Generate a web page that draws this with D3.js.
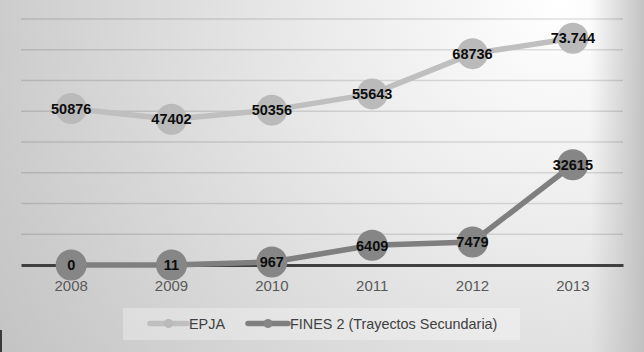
<!DOCTYPE html>
<html><head><meta charset="utf-8">
<script src="https://cdn.jsdelivr.net/npm/d3@7"></script>
<style>html,body{margin:0;padding:0;background:#fff;}svg{display:block;}</style>
</head><body>
<script>
const years = ["2008","2009","2010","2011","2012","2013"];
const epja = [50876, 47402, 50356, 55643, 68736, 73744];
const epjaLabels = ["50876","47402","50356","55643","68736","73.744"];
const fines = [0, 11, 967, 6409, 7479, 32615];
const finesLabels = ["0","11","967","6409","7479","32615"];
const seriesNames = ["EPJA", "FINES 2 (Trayectos Secundaria)"];
const yTicks = [0,10000,20000,30000,40000,50000,60000,70000,80000];

const W = 644, H = 352;
const svg = d3.select("body").append("svg").attr("width", W).attr("height", H);
const defs = svg.append("defs");
const rg = defs.append("radialGradient").attr("id","bg").attr("gradientUnits","userSpaceOnUse")
  .attr("cx",560).attr("cy",5).attr("r",650);
rg.append("stop").attr("offset","0").attr("stop-color","#ffffff");
rg.append("stop").attr("offset","0.35").attr("stop-color","#ececec");
rg.append("stop").attr("offset","1").attr("stop-color","#c4c4c4");
const lg = defs.append("linearGradient").attr("id","edge").attr("x1","0").attr("x2","1").attr("y1","0").attr("y2","0");
lg.append("stop").attr("offset","0").attr("stop-color","#bdbdbd").attr("stop-opacity",0);
lg.append("stop").attr("offset","1").attr("stop-color","#bdbdbd").attr("stop-opacity",0.9);

svg.append("rect").attr("width",W).attr("height",H).attr("fill","url(#bg)");
svg.append("rect").attr("x",590).attr("width",54).attr("height",H).attr("fill","url(#edge)");
svg.append("rect").attr("x",0).attr("y",330).attr("width",2).attr("height",22).attr("fill","#3a3a3a");

const x = d3.scaleBand().domain(years).range([21, 623]);
const y = d3.scaleLinear().domain([0, 80000]).range([265, 19]);
const cx = d => x(d) + x.bandwidth()/2;

// gridlines
svg.append("g").selectAll("line").data(yTicks.slice(1)).join("line")
  .attr("x1",21).attr("x2",623).attr("y1",d=>y(d)).attr("y2",d=>y(d))
  .attr("stroke","#000").attr("stroke-opacity",0.12).attr("stroke-width",1.3);

// x axis
const xAxis = svg.append("g").attr("transform","translate(0,265)")
  .call(d3.axisBottom(x).tickSize(0).tickPadding(15));
xAxis.select(".domain").attr("stroke","#404040").attr("stroke-width",3);
xAxis.selectAll("text").attr("font-family","'Liberation Sans', Arial, sans-serif")
  .attr("font-size","15px").attr("fill","#595959");

function drawSeries(vals, labels, lineColor, dotColor) {
  const line = d3.line().x((d,i)=>cx(years[i])).y(d=>y(d));
  svg.append("path").datum(vals).attr("d",line).attr("fill","none")
    .attr("stroke",lineColor).attr("stroke-width",5.5).attr("stroke-linejoin","round");
  svg.append("g").selectAll("circle").data(vals).join("circle")
    .attr("cx",(d,i)=>cx(years[i])).attr("cy",d=>y(d)).attr("r",15.5).attr("fill",dotColor);
  svg.append("g").selectAll("text").data(vals).join("text")
    .attr("x",(d,i)=>cx(years[i])).attr("y",d=>y(d)).attr("dy","0.36em")
    .attr("text-anchor","middle")
    .attr("font-family","'Liberation Sans', Arial, sans-serif").attr("font-weight","bold")
    .attr("font-size","14.5px").attr("fill","#0d0d0d")
    .text((d,i)=>labels[i]);
}
drawSeries(epja, epjaLabels, "#bfbfbf", "#bababa");
drawSeries(fines, finesLabels, "#7f7f7f", "#868686");

// legend
svg.append("rect").attr("x",123).attr("y",308).attr("width",397).attr("height",32)
  .attr("fill","#ffffff").attr("fill-opacity",0.3);
const legend = [{name:seriesNames[0], x1:150, x2:187, lc:"#bfbfbf", dc:"#bababa"},
                {name:seriesNames[1], x1:248, x2:288, lc:"#7f7f7f", dc:"#868686"}];
legend.forEach(l => {
  svg.append("line").attr("x1",l.x1).attr("x2",l.x2).attr("y1",323.5).attr("y2",323.5)
    .attr("stroke",l.lc).attr("stroke-width",5.5).attr("stroke-linecap","round");
  svg.append("circle").attr("cx",(l.x1+l.x2)/2).attr("cy",323.5).attr("r",4.5).attr("fill",l.dc);
  svg.append("text").attr("x",l.x2+2).attr("y",323.5).attr("dy","0.36em")
    .attr("font-family","'Liberation Sans', Arial, sans-serif").attr("font-size","14.4px")
    .attr("fill","#404040").text(l.name);
});
</script>
</body></html>
